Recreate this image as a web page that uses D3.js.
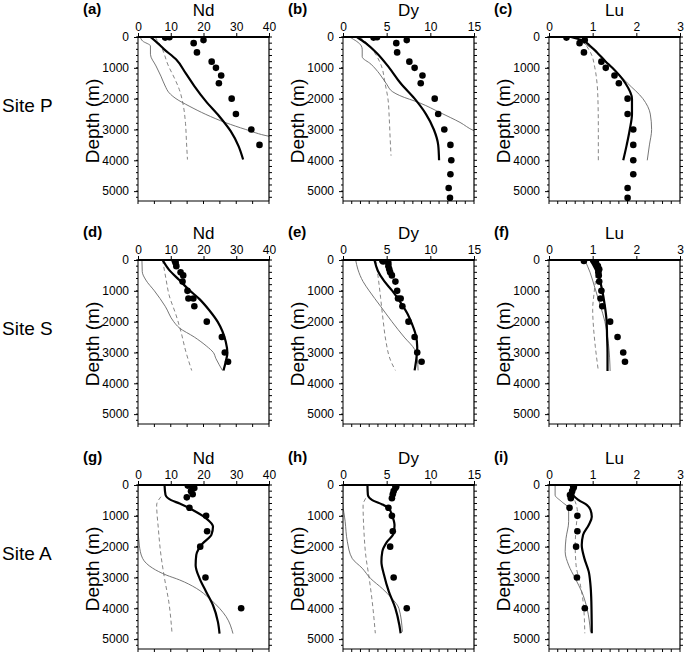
<!DOCTYPE html>
<html><head><meta charset="utf-8">
<script src="https://cdn.jsdelivr.net/npm/d3@7"></script>
<style>body{margin:0;background:#fff}svg{display:block}text{font-family:"Liberation Sans",Arial,Helvetica,sans-serif}</style>
</head><body><div id="chart"></div>
<script>
// ---------- data ----------
const sites = ["Site P", "Site S", "Site A"];
const elements = ["Nd", "Dy", "Lu"];
const panelLetters = ["(a)","(b)","(c)","(d)","(e)","(f)","(g)","(h)","(i)"];
const xDomains = [[0,40],[0,15],[0,3]];
const xTicks = [[0,10,20,30,40],[0,5,10,15],[0,1,2,3]];
const xMinorStep = [5,1,0.2];
const depthTicks = [0,1000,2000,3000,4000,5000];

// [value, depth] pairs
const obsNdP = [[9.6,10],[8.3,20],[20,100],[17,200],[18,500],[22.5,800],[23.8,1000],[25.4,1250],[24.7,1500],[28.6,2000],[29.9,2500],[34.6,3000],[37.1,3500]];
const fullNdP = [[3.8,0],[5.5,150],[8,400],[11.6,725],[14.6,1180],[17.2,1590],[20.7,2080],[24.8,2570],[28.3,3055],[30.7,3540],[32.1,3975]];
const thinNdP = [[0.7,0],[1.4,130],[3.8,290],[3.8,560],[5.5,940],[7,1270],[8.3,1590],[9.5,1810],[11.6,2000],[15.6,2240],[20.7,2510],[26.8,2780],[32.9,3000],[40,3220],[42,3260]];
const dashNdP = [[5.2,0],[7,300],[9.3,940],[11.2,1350],[12.6,1700],[13.8,2200],[14.5,2800],[14.8,3400],[15.1,3975]];

const obsDyP = [[3.9,10],[3.5,20],[7.3,100],[6.1,200],[6.2,500],[7.6,800],[8.2,1000],[9.1,1250],[8.9,1500],[10.5,2000],[10.9,2500],[11.6,3000],[12.3,3500],[12.4,4000],[12.3,4450],[12.1,4900],[12.25,5220]];
const fullDyP = [[1.6,0],[2.6,200],[3.8,500],[5.3,1000],[6.6,1500],[8.2,2000],[9.5,2500],[10.4,3000],[10.9,3500],[11.0,4000]];
const thinDyP = [[0.75,0],[2.1,290],[2.2,400],[2.2,640],[3.2,880],[4.2,1200],[5.0,1530],[5.7,1780],[6.5,1900],[8.8,2140],[11.1,2450],[13.4,2770],[15,3040],[16,3150]];
const dashDyP = [[1.9,0],[2.7,180],[3.6,500],[4.4,940],[4.8,1480],[5.15,2010],[5.3,2660],[5.4,3300],[5.5,3850]];

const obsLuP = [[0.4,20],[0.82,100],[0.7,200],[0.8,500],[1.2,800],[1.3,1000],[1.5,1250],[1.6,1500],[1.8,2000],[1.8,2500],[1.93,3000],[1.93,3500],[1.93,4000],[1.93,4450],[1.8,4900],[1.8,5220]];
const fullLuP = [[0.5,0],[0.75,100],[0.95,300],[1.1,500],[1.3,800],[1.45,1000],[1.75,1500],[1.9,2000],[1.9,2500],[1.85,3000],[1.78,3500],[1.7,4000]];
const thinLuP = [[0.6,0],[0.8,200],[1.1,500],[1.45,1000],[1.8,1500],[2.15,2000],[2.32,2500],[2.35,3000],[2.3,3500],[2.25,4000]];
const dashLuP = [[0.62,0],[0.8,200],[0.95,500],[1.05,1000],[1.1,1500],[1.12,2000],[1.13,3000],[1.13,4000]];

const obsNdS = [[11.2,20],[11.4,50],[11.5,100],[11.7,200],[13.0,400],[13.8,500],[13.6,700],[15.1,1000],[15.4,1250],[16.9,1250],[17.2,1500],[21,2000],[25.6,2500],[26.5,3000],[27.5,3300]];
const fullNdS = [[7.5,0],[9.5,320],[12.6,650],[15.6,970],[18.7,1260],[21.7,1620],[24.3,2000],[25.8,2320],[26.8,2650],[27.3,3020],[26.8,3290],[26.1,3585]];
const thinNdS = [[1.2,0],[1.3,380],[2.4,650],[5,1000],[8.3,1500],[10.9,2000],[12.6,2200],[17.2,2500],[21,2800],[23,3000],[23.8,3200],[24.8,3400],[25.8,3585]];
const dashNdS = [[7.5,0],[8.5,590],[9.5,1140],[11.6,1780],[13.1,2320],[14.6,2970],[16.4,3585]];

const obsDyS = [[4.5,20],[4.6,50],[5.15,10],[5.2,100],[5.2,200],[5.3,300],[5.4,400],[5.6,500],[6.0,700],[6.2,1000],[6.3,1250],[6.6,1250],[6.8,1500],[7.5,2000],[8.2,2500],[8.5,3000],[9.0,3300]];
const fullDyS = [[3.6,0],[4.0,355],[4.7,680],[5.65,1000],[6.6,1380],[7.4,1750],[7.9,2075],[8.3,2400],[8.5,2830],[8.4,3200],[8.2,3580]];
const thinDyS = [[1.45,0],[1.7,300],[2.3,700],[3.0,1000],[4.3,1500],[5.6,2000],[7.0,2500],[8.2,2900],[8.5,3200],[8.6,3580]];
const dashDyS = [[3.75,0],[4.0,500],[4.3,1210],[4.6,1970],[4.9,2610],[5.45,3260],[6.0,3580]];

const obsLuS = [[0.8,30],[1.02,20],[1.08,100],[1.12,200],[1.15,300],[1.13,400],[1.14,500],[1.15,700],[1.2,1000],[1.18,1250],[1.22,1500],[1.4,2000],[1.57,2500],[1.7,3000],[1.74,3300]];
const fullLuS = [[0.95,0],[1.13,500],[1.22,1000],[1.28,1500],[1.32,2000],[1.33,2500],[1.34,3000],[1.34,3600]];
const thinLuS = [[0.82,0],[0.94,400],[1.05,900],[1.17,1450],[1.28,2000],[1.36,2700],[1.4,3600]];
const dashLuS = [[1.1,0],[1.07,600],[1.03,1100],[1.0,1600],[1.02,2200],[1.06,2800],[1.13,3600]];

const obsNdA = [[15.2,20],[16.7,50],[17.2,100],[16.2,200],[16.7,300],[14.9,400],[15.7,740],[20.8,1000],[21.1,1500],[19,2000],[20.6,3000],[31.5,4000]];
const fullNdA = [[8.1,0],[8.4,320],[10.1,490],[12.7,600],[16.7,810],[20.8,1080],[22.9,1350],[22.4,1620],[19.8,1890],[17.8,2270],[17.6,2600],[18.8,3030],[20.8,3460],[22.9,3900],[24.4,4440],[24.9,4820]];
const thinNdA = [[0,0],[0,1300],[0.4,1950],[1.4,2380],[4.5,2700],[8.6,2920],[12.7,3080],[17.8,3350],[21.8,3680],[24.9,4000],[26.9,4270],[29,4820]];
const dashNdA = [[7,380],[5.7,650],[6.2,1400],[7,2270],[8.1,3030],[9.4,3790],[10.4,4820]];

const obsDyA = [[6.0,20],[6.1,50],[6.0,100],[5.8,200],[5.7,300],[5.6,430],[5.2,740],[5.6,1000],[5.7,1500],[5.4,2000],[5.8,3000],[7.3,4000]];
const fullDyA = [[2.8,0],[2.85,325],[3.35,490],[4.5,630],[5.25,760],[5.6,975],[5.9,1300],[5.8,1570],[5.05,1840],[4.5,2160],[4.4,2490],[4.7,2920],[5.25,3460],[6.0,4000],[6.45,4540],[6.6,4810]];
const thinDyA = [[0,0],[0,600],[0.25,1190],[0.5,1840],[1.05,2380],[2.2,2700],[3.15,3030],[4.5,3360],[5.6,3680],[6.4,4000],[6.8,4760]];
const dashDyA = [[2.6,430],[2.3,650],[2.4,1510],[2.6,2270],[3.0,3030],[3.35,3790],[3.7,4810]];

const obsLuA = [[0.55,20],[0.57,50],[0.56,100],[0.53,200],[0.48,325],[0.5,430],[0.47,740],[0.65,1000],[0.65,1500],[0.62,2000],[0.64,3000],[0.82,4000]];
const fullLuA = [[0.55,0],[0.56,325],[0.68,490],[0.87,650],[0.95,810],[0.98,1030],[0.91,1300],[0.78,1620],[0.75,1950],[0.81,2380],[0.91,2810],[0.95,3250],[0.97,3790],[0.98,4810]];
const thinLuA = [[0.14,0],[0.14,325],[0.29,540],[0.45,760],[0.45,1190],[0.39,1730],[0.37,2160],[0.45,2600],[0.6,3030],[0.75,3460],[0.87,4000],[0.95,4760]];
const dashLuA = [[0.52,300],[0.6,540],[0.65,870],[0.62,1400],[0.6,1950],[0.62,2600],[0.72,3250],[0.79,3900],[0.82,4810]];

const panelData = [
  [obsNdP, fullNdP, thinNdP, dashNdP], [obsDyP, fullDyP, thinDyP, dashDyP], [obsLuP, fullLuP, thinLuP, dashLuP],
  [obsNdS, fullNdS, thinNdS, dashNdS], [obsDyS, fullDyS, thinDyS, dashDyS], [obsLuS, fullLuS, thinLuS, dashLuS],
  [obsNdA, fullNdA, thinNdA, dashNdA], [obsDyA, fullDyA, thinDyA, dashDyA], [obsLuA, fullLuA, thinLuA, dashLuA]
];

// ---------- layout ----------
const W = 685, H = 654;
const colX = [138, 343, 549], rowY = [37, 260, 485];
const pw = 131, ph = 164;
const depthMax = 5320;

const svg = d3.select("#chart").append("svg").attr("width", W).attr("height", H);
const defs = svg.append("defs");

for (let r = 0; r < 3; r++) {
  svg.append("text").attr("x", 2).attr("y", rowY[r] + ph/2 - 7)
    .attr("font-size", 19).text(sites[r]);
  for (let c = 0; c < 3; c++) {
    const idx = r*3 + c;
    const [obs, full, thin, dash] = panelData[idx];
    const x = d3.scaleLinear().domain(xDomains[c]).range([0, pw]);
    const y = d3.scaleLinear().domain([0, depthMax]).range([0, ph]);
    const g = svg.append("g").attr("transform", `translate(${colX[c]},${rowY[r]})`);
    const cid = "clip" + idx;
    defs.append("clipPath").attr("id", cid).append("rect").attr("width", pw).attr("height", ph);

    // labels
    g.append("text").attr("x", -55).attr("y", -23).attr("font-size", 15).attr("font-weight", "bold").text(panelLetters[idx]);
    g.append("text").attr("x", pw/2).attr("y", -21).attr("text-anchor", "middle").attr("font-size", 17).text(elements[c]);
    g.append("text").attr("transform", `translate(-39,${ph/2 + 2}) rotate(-90)`).attr("text-anchor", "middle")
      .attr("font-size", 19).text("Depth (m)");

    // top axis
    const top = d3.axisTop(x).tickValues(xTicks[c]).tickSize(4).tickPadding(2).tickFormat(d3.format("d"));
    const ga = g.append("g").call(top);
    ga.select(".domain").remove();
    ga.selectAll("text").attr("font-size", 12).style("font-family", "Liberation Sans, Arial, sans-serif");
    // left axis
    const left = d3.axisLeft(y).tickValues(depthTicks).tickSize(4).tickPadding(5).tickFormat(d3.format("d"));
    const gl = g.append("g").call(left);
    gl.select(".domain").remove();
    gl.selectAll("text").attr("font-size", 12).style("font-family", "Liberation Sans, Arial, sans-serif");
    // minor ticks
    const minorDepth = d3.range(0, depthMax, 200);
    const minorX = d3.range(xDomains[c][0], xDomains[c][1] + 1e-9, xMinorStep[c]);
    g.append("g").selectAll("line").data(minorDepth).join("line")
      .attr("x1", -2).attr("x2", 0).attr("y1", d => y(d)).attr("y2", d => y(d)).attr("stroke", "#000");
    g.append("g").selectAll("line").data(minorDepth).join("line")
      .attr("x1", pw).attr("x2", pw + 3).attr("y1", d => y(d)).attr("y2", d => y(d)).attr("stroke", "#000");
    g.append("g").selectAll("line").data(minorX).join("line")
      .attr("x1", d => x(d)).attr("x2", d => x(d)).attr("y1", ph).attr("y2", ph + 3).attr("stroke", "#000");

    // curves
    const line = d3.line().x(d => x(d[0])).y(d => y(d[1])).curve(d3.curveMonotoneY);
    const plot = g.append("g").attr("clip-path", `url(#${cid})`);
    plot.append("path").attr("d", line(dash)).attr("fill", "none").attr("stroke", "#777").attr("stroke-width", 0.9).attr("stroke-dasharray", "4,3");
    plot.append("path").attr("d", line(thin)).attr("fill", "none").attr("stroke", "#666").attr("stroke-width", 0.9);
    plot.append("path").attr("d", line(full)).attr("fill", "none").attr("stroke", "#000").attr("stroke-width", 2.2);
    plot.selectAll("circle").data(obs).join("circle")
      .attr("cx", d => x(d[0])).attr("cy", d => y(d[1])).attr("r", 3.3).attr("fill", "#000");

    // frame
    g.append("line").attr("x1", 0).attr("x2", 0).attr("y1", 0).attr("y2", ph).attr("stroke", "#000").attr("stroke-width", 1);
    g.append("line").attr("x1", pw).attr("x2", pw).attr("y1", 0).attr("y2", ph).attr("stroke", "#000").attr("stroke-width", 1.2);
    g.append("line").attr("x1", 0).attr("x2", pw).attr("y1", ph).attr("y2", ph).attr("stroke", "#000").attr("stroke-width", 1);
    g.append("line").attr("x1", -0.5).attr("x2", pw + 0.5).attr("y1", 0).attr("y2", 0).attr("stroke", "#000").attr("stroke-width", 2);
  }
}
</script></body></html>
